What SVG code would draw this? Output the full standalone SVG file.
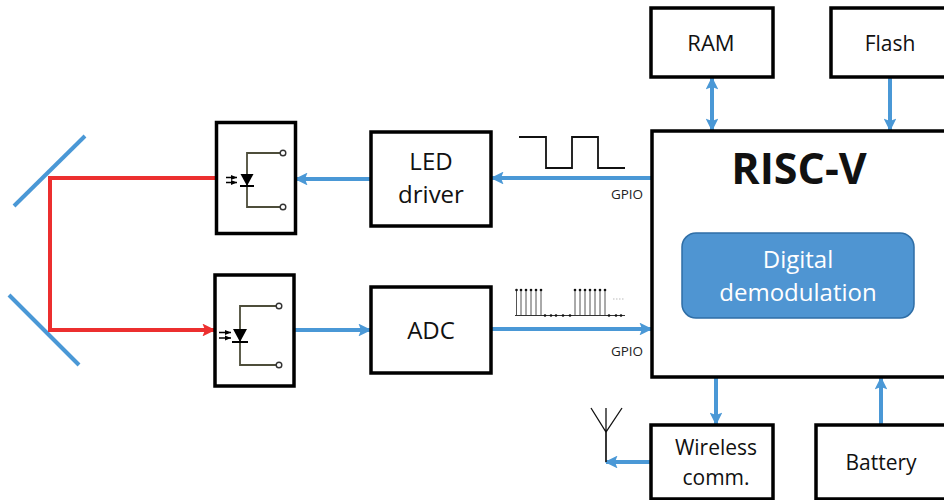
<svg xmlns="http://www.w3.org/2000/svg" width="944" height="500" viewBox="0 0 944 500">
<defs>
<style>
.box{fill:#fff;stroke:#000;stroke-width:3.5}
.t{font-family:"Open Sans","Liberation Sans",sans-serif;fill:#111;text-anchor:middle;font-size:24px}
.bl{stroke:#4a98d6;stroke-width:4;fill:none}
.rd{stroke:#ec2f2f;stroke-width:4;fill:none}
.ci{stroke:#4d4d3a;stroke-width:1.8;fill:none}
.ck{stroke:#111;stroke-width:1.8;fill:none}
.dot{fill:#fff;stroke:#333;stroke-width:1.4}
.sm{font-family:"Open Sans","Liberation Sans",sans-serif;fill:#222;text-anchor:middle;font-size:13.5px}
</style>
<marker id="ab" viewBox="0 0 10 10" refX="9" refY="5" markerWidth="3.2" markerHeight="3.2" orient="auto-start-reverse"><path d="M0 0L10 5L0 10L2 5Z" fill="#4a98d6"/></marker>
<marker id="ar" viewBox="0 0 10 10" refX="9" refY="5" markerWidth="3.2" markerHeight="3.2" orient="auto"><path d="M0 0L10 5L0 10L2 5Z" fill="#ec2f2f"/></marker>
</defs>
<rect width="944" height="500" fill="#fff"/>

<g id="connectors">
<path class="bl" d="M85 136L14 206"/>
<path class="bl" d="M9 295L79 365"/>
<path class="rd" d="M216 178H50V330H214" marker-end="url(#ar)"/>
<path class="bl" d="M371 179H296" marker-end="url(#ab)"/>
<path class="bl" d="M295 330H370" marker-end="url(#ab)"/>
<path class="bl" d="M652 178H492" marker-end="url(#ab)"/>
<path class="bl" d="M491 329H651" marker-end="url(#ab)"/>
<path class="bl" d="M712 78V130" marker-start="url(#ab)" marker-end="url(#ab)"/>
<path class="bl" d="M890 78V130" marker-end="url(#ab)"/>
<path class="bl" d="M716 378V424" marker-end="url(#ab)"/>
<path class="bl" d="M881 425V378" marker-end="url(#ab)"/>
<path class="bl" d="M651 462H606" marker-end="url(#ab)"/>
</g>

<g id="signal-square"><path class="ck" d="M519 137H546V168H572V137H598V168H625"/></g>
<g id="signal-pulses">
<path d="M515 315.500H625" stroke="#333" stroke-width="1.200"/>
<path d="M516.500 315V290M521 315V290M526 315V290M531 315V290M536 315V290M541 315V290M575 315V290M580 315V290M585 315V290M590 315V290M595 315V290M600 315V290M605 315V290" stroke="#555" stroke-width="1"/>
<g fill="#111"><circle cx="516.500" cy="290" r="1.300"/><circle cx="521" cy="290" r="1.300"/><circle cx="526" cy="290" r="1.300"/><circle cx="531" cy="290" r="1.300"/><circle cx="536" cy="290" r="1.300"/><circle cx="541" cy="290" r="1.300"/><circle cx="575" cy="290" r="1.300"/><circle cx="580" cy="290" r="1.300"/><circle cx="585" cy="290" r="1.300"/><circle cx="590" cy="290" r="1.300"/><circle cx="595" cy="290" r="1.300"/><circle cx="600" cy="290" r="1.300"/><circle cx="605" cy="290" r="1.300"/><circle cx="545" cy="315.500" r="1.300"/><circle cx="551" cy="315.500" r="1.300"/><circle cx="556" cy="315.500" r="1.300"/><circle cx="563" cy="315.500" r="1.300"/><circle cx="570" cy="315.500" r="1.300"/><circle cx="609" cy="315.500" r="1.300"/><circle cx="616" cy="315.500" r="1.300"/><circle cx="621" cy="315.500" r="1.300"/></g>
<path d="M613 299H625" stroke="#bbb" stroke-width="1" stroke-dasharray="1.500 1.500"/>
</g>
<g id="antenna"><path d="M591 408L606 432L622 408M606 408V432" fill="none" stroke="#111" stroke-width="1.300"/><path d="M606 432V462" stroke="#222" stroke-width="1.800"/></g>

<g id="emitter"><rect class="box" x="216.500" y="122.500" width="79" height="111"/>
<path class="ci" d="M280 153H247V207H280"/><circle class="dot" cx="283" cy="153" r="2.800"/><circle class="dot" cx="283" cy="207" r="2.800"/>
<path d="M240.500 174H253.500L247 186Z" fill="#000"/><path d="M240 186H254" stroke="#000" stroke-width="2"/>
<path d="M226 177.500H237M226 182.500H237" stroke="#000" stroke-width="1.300"/>
<path d="M231 175L237 177.500L231 180ZM231 180L237 182.500L231 185Z" fill="#000"/></g>
<g id="detector"><rect class="box" x="215" y="275" width="79" height="111"/>
<path class="ci" d="M276 306H240V365H276"/><circle class="dot" cx="279" cy="306" r="2.800"/><circle class="dot" cx="279" cy="365" r="2.800"/>
<path d="M233 329H247L240 342Z" fill="#000"/><path d="M232 342H248" stroke="#000" stroke-width="2"/>
<path d="M219 332.500H231M219 338H231" stroke="#000" stroke-width="1.300"/>
<path d="M225 330L231 332.500L225 335ZM225 335.500L231 338L225 340.500Z" fill="#000"/></g>
<g id="led-driver"><rect class="box" x="371" y="132" width="120" height="94"/><text class="t" x="431" y="170">LED</text><text class="t" x="431" y="203">driver</text></g>
<g id="adc"><rect class="box" x="371" y="287" width="120" height="86"/><text class="t" x="431" y="339">ADC</text></g>
<g id="ram"><rect class="box" x="651" y="8" width="122" height="69"/><text class="t" x="711" y="51" style="font-size:22px">RAM</text></g>
<g id="flash"><rect class="box" x="831" y="8" width="130" height="69"/><text class="t" x="890" y="51" style="font-size:21px">Flash</text></g>
<g id="risc-v"><rect class="box" x="652" y="131" width="310" height="246"/><text class="t" x="799" y="184" style="font-size:43px;font-weight:700">RISC-V</text>
<rect x="682" y="233" width="232" height="85" rx="14" fill="#4f95d2" stroke="#2f6ea6" stroke-width="1.500"/>
<text class="t" x="798" y="268" style="fill:#fff">Digital</text><text class="t" x="798" y="301" style="fill:#fff">demodulation</text></g>
<g id="wireless"><rect class="box" x="651" y="425" width="122" height="74"/><text class="t" x="716" y="455" style="font-size:21px">Wireless</text><text class="t" x="716" y="485" style="font-size:21px">comm.</text></g>
<g id="battery"><rect class="box" x="816" y="425" width="140" height="74"/><text class="t" x="881" y="470" style="font-size:21px">Battery</text></g>
<text class="sm" x="627" y="199">GPIO</text>
<text class="sm" x="627" y="356">GPIO</text>
</svg>
